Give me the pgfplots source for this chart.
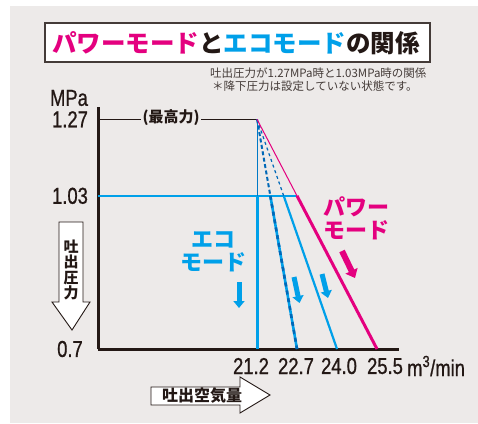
\documentclass[border=0pt]{standalone}
\usepackage{pgfplots}
\pgfplotsset{compat=1.18}
\usetikzlibrary{arrows.meta}
\usepackage{fontspec}
\setmainfont{Liberation Sans}
\newfontfamily\jp{Noto Sans CJK JP}
\newfontfamily\numfont[FakeStretch=0.8,FakeBold=0.8]{Liberation Sans}

\definecolor{bg}{HTML}{EDEAE9}
\definecolor{eco}{HTML}{00A0E9}
\definecolor{ecodark}{HTML}{0068B7}
\definecolor{power}{HTML}{E4007F}
\definecolor{ink}{HTML}{231815}

\begin{document}
\begin{tikzpicture}
% page and grey panel (pixel frame: x right, y down)
\begin{scope}[x=1bp,y=-1bp]
  \path[use as bounding box, fill=white] (0,0) rectangle (478,423);
  \fill[bg] (10,6) rectangle (478,423);
\end{scope}

% x: 21.2, 22.7, 24.0, 25.5 drawn evenly at 0,1,2,3
% y: 0.7 -> 0, 1.03 -> 2, 1.27 -> 3 (schematic scale of the source)
\begin{axis}[
  at={(98bp,-349bp)}, anchor=south west,
  scale only axis, width=301bp, height=242bp,
  xmin=-3.975, xmax=3.55, ymin=0, ymax=3.16,
  axis x line=bottom, axis y line=left,
  axis line style={-, line width=3bp, ink},
  clip=false,
  xtick={-0.15,0.975,2.05,3.2},
  xticklabels={21.2,22.7,24.0,25.5},
  ytick={0,2,3},
  yticklabels={0.7,1.03,1.27},
  major tick length=0pt, tick style={draw=none},
  ticklabel style={font=\numfont\fontsize{23bp}{26bp}\selectfont, text=ink, inner sep=0pt},
  xticklabel style={anchor=center, yshift=-17bp},
  yticklabel style={anchor=center, xshift=-28bp},
  xlabel={m\textsuperscript{3}/min},
  xlabel style={at={(axis cs:3.55,0)}, anchor=west, xshift=8bp, yshift=-17bp,
    font=\numfont\fontsize{23bp}{26bp}\selectfont, text=ink, inner sep=0pt},
  ylabel={MPa},
  ylabel style={at={(axis cs:-3.975,3.16)}, rotate=-90, anchor=center, xshift=-29bp, yshift=9bp,
    font=\numfont\fontsize{23bp}{26bp}\selectfont, text=ink, inner sep=0pt},
]
% reference lines
\addplot[no marks, draw=ink, line width=1.3bp] coordinates {(-3.975,3) (0,3)};
\addplot[no marks, draw=eco, line width=1.6bp] coordinates {(-3.975,2) (1,2)};
% eco mode 21.2
\addplot[no marks, draw=ecodark!70!eco, line width=1bp] coordinates {(0,3) (0,2)};
\addplot[no marks, draw=eco, line width=3bp] coordinates {(0,2) (0,0)};
% eco mode 22.7
\addplot[no marks, draw=ecodark, line width=2bp, dash pattern=on 4bp off 2.5bp] coordinates {(0,3) (0.333,2)};
\addplot[no marks, draw=eco, line width=2.6bp] coordinates {(0.333,2) (1,0)};
\addplot[no marks, draw=ecodark, line width=2.6bp, dash pattern=on 4bp off 4bp] coordinates {(0.333,2) (1,0)};
% eco mode 24.0
\addplot[no marks, draw=ecodark, line width=1.2bp, dash pattern=on 3bp off 3bp] coordinates {(0,3) (0.667,2)};
\addplot[no marks, draw=eco, line width=2.2bp] coordinates {(0.667,2) (2,0)};
% power mode 25.5
\addplot[no marks, draw=power, line width=1bp] coordinates {(0,3) (1,2)};
\addplot[no marks, draw=power, line width=3bp] coordinates {(1,2) (3,0)};
\end{axis}

\begin{scope}[x=1bp,y=-1bp]
  % title
  \draw[line width=1.5bp, ink!85, fill=white] (45,23) rectangle (430,62);
  \node[font=\jp\bfseries\fontsize{24.5bp}{26bp}\selectfont, text=ink] at (236,43)
    {{\color{power}パワーモード}と{\color{eco}エコモード}の関係};
  % notes
  \node[anchor=west, inner sep=0pt, font=\jp\fontsize{11.5bp}{13bp}\selectfont, text=ink!85] at (210,73)
    {吐出圧力が1.27MPa時と1.03MPa時の関係};
  \node[anchor=west, inner sep=0pt, font=\jp\fontsize{11.5bp}{13bp}\selectfont, text=ink!85] at (212,86)
    {＊降下圧力は設定していない状態です。};
  % max pressure label
  \node[fill=bg, inner sep=1.5bp, font=\jp\bfseries\fontsize{15bp}{16bp}\selectfont, text=ink] at (171,118)
    {(最高力)};
  % mode labels
  \node[align=center, font=\jp\bfseries\fontsize{22bp}{23bp}\selectfont, text=power] at (356,218.5)
    {パワー\\モード};
  \node[align=center, font=\jp\bfseries\fontsize{22bp}{23bp}\selectfont, text=eco] at (213,252)
    {エコ\\モード};
  % arrows
  \draw[eco, line width=5bp, -{Triangle[width=11bp,length=7bp]}] (239,282) -- (239,308);
  \draw[eco, line width=5bp, -{Triangle[width=11bp,length=7bp]}] (294,277) -- (299.5,303);
  \draw[eco, line width=5bp, -{Triangle[width=11bp,length=7bp]}] (322,274) -- (328,298);
  \draw[power, line width=6bp, -{Triangle[width=13bp,length=8bp]}] (342,251) -- (355,278);
  % axis name arrows
  \draw[line width=0.9bp, ink, fill=white]
    (59,222) -- (83,222) -- (83,302) -- (90,302) -- (72,330) -- (52,302) -- (59,302) -- cycle;
  \node[align=center, font=\jp\bfseries\fontsize{15bp}{15.5bp}\selectfont, text=ink] at (71,270)
    {吐\\出\\圧\\力};
  \draw[line width=0.9bp, ink, fill=white]
    (151,387) -- (240,387) -- (240,377) -- (270,395) -- (240,413) -- (240,405) -- (151,405) -- cycle;
  \node[font=\jp\bfseries\fontsize{16bp}{17bp}\selectfont, text=ink] at (202,396)
    {吐出空気量};
\end{scope}
\end{tikzpicture}
\end{document}
